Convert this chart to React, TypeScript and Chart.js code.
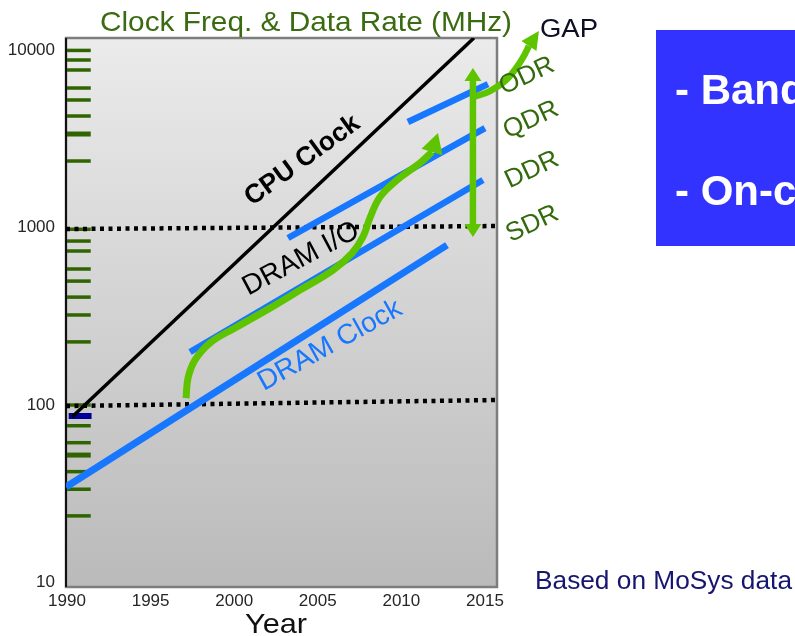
import React, { useEffect, useRef } from 'react';
import { Chart, registerables } from 'chart.js';
Chart.register(...registerables);

const FONT = '"Liberation Sans", Arial, Helvetica, sans-serif';

// axis
const yearTicks = [1990, 1995, 2000, 2005, 2010, 2015];
const freqTicks = [10, 100, 1000, 10000];
const yearRange = [1989.94, 2015.72];
const freqRange = [9.41, 11750];

// series: [year, MHz]
const cpuClock = [[1990.3, 85.6], [2014.34, 11750]];
const dramClock = [[1989.94, 34.5], [2012.73, 798]];
const dramIoDDR = [[1997.36, 199], [2014.88, 1858]];
const dramIoQDR = [[2003.22, 875], [2015.0, 3648]];
const dramIoODR = [[2010.39, 3945], [2015.18, 6457]];
const ioTrend = [
  [1997.12, 109.5], [1997.24, 142], [1997.66, 179.5], [1998.55, 224], [2000.05, 272],
  [2002.14, 352], [2003.94, 445], [2005.91, 577], [2007.05, 719], [2007.7, 887],
  [2008.12, 1135], [2008.72, 1490], [2009.74, 1858], [2011.11, 2317], [2011.83, 2673],
];
const ioTrendTip = [2012.19, 3420];
const gapSpan = [[2014.28, 6714], [2014.28, 1049]];
const gapSpanTopTip = [2014.28, 7957];
const gapSpanBottomTip = [2014.28, 886];
const gapTrend = [[2014.34, 5460], [2015.3, 5902], [2016.2, 6720], [2016.91, 8062], [2017.39, 9544], [2017.63, 10590]];
const gapTrendTip = [2018.23, 12870];
const ref1000 = [[1989.94, 983], [2015.72, 1022]];
const ref100 = [[1989.94, 98.7], [2015.72, 106.7]];
const minorMarks = [10000, 8830, 7755, 6137, 5253, 4266, 2378, 980, 841, 739, 585, 500, 406, 322, 227, 100, 76.4, 61.3, 42.1, 33.5, 23.7];
const heavyMarks = [3377, 52.2];
const startMark = [86.7];
const markSpan = [1990.0, 1991.42];

// labels
const plotLabels = ['CPU Clock', 'DRAM I/O', 'DRAM Clock', 'ODR', 'QDR', 'DDR', 'SDR'];
const plotLabelAt = [[2004.08, 2393], [2004.0, 666], [2005.73, 216.6], [2017.51, 7170], [2017.75, 4050], [2017.81, 2116], [2017.84, 1049]];
const titleText = 'Clock Freq. & Data Rate (MHz)';
const gapText = 'GAP';
const xTitle = 'Year';
const sourceText = 'Based on MoSys data';
const boxLines = ['- Bandwidth', '- On-chip'];

const BLUE = '#1877ff';
const LIME = '#5fc400';
const DKGREEN = '#336a0c';

const pts = (a: number[][]) => a.map(([x, y]) => ({ x, y }));

function drawHead(ctx: CanvasRenderingContext2D, bx: number, by: number, tx: number, ty: number, w: number) {
  const dx = tx - bx, dy = ty - by;
  const len = Math.hypot(dx, dy) || 1;
  const nx = -dy / len, ny = dx / len;
  ctx.beginPath();
  ctx.moveTo(tx, ty);
  ctx.lineTo(bx + nx * w / 2, by + ny * w / 2);
  ctx.lineTo(bx - nx * w / 2, by - ny * w / 2);
  ctx.closePath();
  ctx.fill();
}

const deco = {
  id: 'deco',
  beforeDatasetsDraw(chart: any) {
    const { ctx, chartArea: a } = chart;
    ctx.save();
    const g = ctx.createLinearGradient(0, a.top, 0, a.bottom);
    g.addColorStop(0, '#ebebeb');
    g.addColorStop(1, '#bababa');
    ctx.fillStyle = g;
    ctx.fillRect(a.left, a.top, a.right - a.left, a.bottom - a.top);
    ctx.strokeStyle = '#7d7d7d';
    ctx.lineWidth = 2.5;
    ctx.strokeRect(a.left, a.top, a.right - a.left, a.bottom - a.top);
    ctx.strokeStyle = '#111';
    ctx.lineWidth = 2;
    ctx.beginPath();
    ctx.moveTo(a.left, a.top);
    ctx.lineTo(a.left, a.bottom);
    ctx.stroke();
    ctx.restore();
  },
  afterDatasetsDraw(chart: any) {
    const { ctx } = chart;
    const xs = chart.scales.x, ys = chart.scales.y;
    const P = (p: number[]) => [xs.getPixelForValue(p[0]), ys.getPixelForValue(p[1])];
    ctx.save();
    ctx.fillStyle = LIME;
    const heads: [number[], number[], number][] = [
      [ioTrend[ioTrend.length - 1], ioTrendTip, 22],
      [gapSpan[0], gapSpanTopTip, 17],
      [gapSpan[1], gapSpanBottomTip, 17],
      [gapTrend[gapTrend.length - 1], gapTrendTip, 18],
    ];
    for (const [b, t, w] of heads) {
      const [bx, by] = P(b);
      const [tx, ty] = P(t);
      drawHead(ctx, bx, by, tx, ty, w);
    }
    const styles = [
      { font: `bold 26.5px ${FONT}`, color: '#000', angle: -36 },
      { font: `28px ${FONT}`, color: '#000', angle: -28 },
      { font: `28px ${FONT}`, color: BLUE, angle: -29 },
      { font: `26px ${FONT}`, color: DKGREEN, angle: -25 },
      { font: `26px ${FONT}`, color: DKGREEN, angle: -25 },
      { font: `26px ${FONT}`, color: DKGREEN, angle: -25 },
      { font: `26px ${FONT}`, color: DKGREEN, angle: -25 },
    ];
    plotLabels.forEach((txt, i) => {
      const [px, py] = P(plotLabelAt[i]);
      const s = styles[i];
      ctx.save();
      ctx.translate(px, py);
      ctx.rotate((s.angle * Math.PI) / 180);
      ctx.font = s.font;
      ctx.fillStyle = s.color;
      ctx.textAlign = 'center';
      ctx.textBaseline = 'middle';
      ctx.fillText(txt, 0, 0);
      ctx.restore();
    });
    ctx.restore();
  },
  afterDraw(chart: any) {
    const { ctx } = chart;
    ctx.save();
    const fitText = (t: string, x: number, y: number, w: number, font: string, color: string) => {
      ctx.font = font;
      ctx.fillStyle = color;
      ctx.textAlign = 'left';
      ctx.textBaseline = 'alphabetic';
      const m = ctx.measureText(t).width;
      ctx.save();
      ctx.translate(x, y);
      ctx.scale(w / m, 1);
      ctx.fillText(t, 0, 0);
      ctx.restore();
    };
    fitText(titleText, 100, 31, 412, `27.5px ${FONT}`, '#3a6b10');
    fitText(gapText, 540, 37, 58, `26.5px ${FONT}`, '#0e0e24');
    fitText(xTitle, 245, 633, 62, `28px ${FONT}`, '#111');
    fitText(sourceText, 535, 589, 257, `25px ${FONT}`, '#161670');
    ctx.fillStyle = '#3333ff';
    ctx.fillRect(656, 30, 139, 216);
    ctx.fillStyle = '#fff';
    ctx.font = `bold 42px ${FONT}`;
    ctx.textAlign = 'left';
    ctx.textBaseline = 'alphabetic';
    ctx.fillText(boxLines[0], 675, 104);
    ctx.fillText(boxLines[1], 675, 205);
    ctx.restore();
  },
};

export default function App() {
  const ref = useRef<HTMLCanvasElement>(null);
  useEffect(() => {
    if (!ref.current) return;
    const line = (data: number[][], color: string, width: number, order: number, extra: any = {}) => ({
      data: pts(data),
      borderColor: color,
      backgroundColor: color,
      borderWidth: width,
      pointRadius: 0,
      fill: false,
      tension: 0,
      borderCapStyle: 'butt',
      order,
      ...extra,
    });
    const datasets: any[] = [];
    minorMarks.forEach((v) => datasets.push(line([[markSpan[0], v], [markSpan[1], v]], '#2f6400', 3.5, 20)));
    heavyMarks.forEach((v) => datasets.push(line([[markSpan[0], v], [markSpan[1], v]], '#2f6400', 5, 20)));
    startMark.forEach((v) => datasets.push(line([[markSpan[0] + 0.1, v], [markSpan[1] + 0.05, v]], '#000099', 6, 19)));
    datasets.push(line(ref1000, '#000', 4.5, 15, { borderDash: [4, 4.5] }));
    datasets.push(line(ref100, '#000', 4.5, 15, { borderDash: [4, 4.5] }));
    datasets.push(line(cpuClock, '#000', 3.5, 12));
    datasets.push(line(dramClock, BLUE, 7, 10));
    datasets.push(line(dramIoDDR, BLUE, 6.5, 10));
    datasets.push(line(dramIoQDR, BLUE, 6.5, 10));
    datasets.push(line(dramIoODR, BLUE, 6.5, 10));
    datasets.push(line(ioTrend, LIME, 7, 2, { tension: 0.4 }));
    datasets.push(line(gapSpan, LIME, 6.5, 2));
    // reversed order keeps Chart.js from trimming the points beyond the x range
    datasets.push(line([...gapTrend].reverse(), LIME, 6.5, 1, { tension: 0.4, clip: false }));

    const chart = new Chart(ref.current, {
      type: 'line',
      data: { datasets },
      plugins: [deco],
      options: {
        animation: false,
        responsive: false,
        devicePixelRatio: 1,
        events: [],
        layout: { padding: { left: 0, top: 38, right: 298, bottom: 0 } },
        plugins: { legend: { display: false }, tooltip: { enabled: false }, title: { display: false } },
        scales: {
          x: {
            type: 'linear',
            min: yearRange[0],
            max: yearRange[1],
            grid: { display: false, drawTicks: false },
            border: { display: false },
            afterBuildTicks: (s: any) => { s.ticks = yearTicks.map((v) => ({ value: v })); },
            afterFit: (s: any) => { s.height = 49; },
            ticks: {
              autoSkip: false,
              maxRotation: 0,
              padding: 4,
              color: '#262626',
              font: { family: FONT, size: 17 },
              callback: (v: any) => String(v),
            },
          },
          y: {
            type: 'logarithmic',
            min: freqRange[0],
            max: freqRange[1],
            grid: { display: false, drawTicks: false },
            border: { display: false },
            afterBuildTicks: (s: any) => { s.ticks = freqTicks.map((v) => ({ value: v })); },
            afterFit: (s: any) => { s.width = 66; },
            ticks: {
              autoSkip: false,
              padding: 11,
              color: '#262626',
              font: { family: FONT, size: 17 },
              callback: (v: any) => String(v),
            },
          },
        },
      },
    });
    return () => chart.destroy();
  }, []);
  return (
    <div style={{ position: 'fixed', left: 0, top: 0, width: 795, height: 636, background: '#fff', overflow: 'hidden' }}>
      <canvas ref={ref} width={795} height={636} style={{ display: 'block', width: 795, height: 636 }} />
    </div>
  );
}
